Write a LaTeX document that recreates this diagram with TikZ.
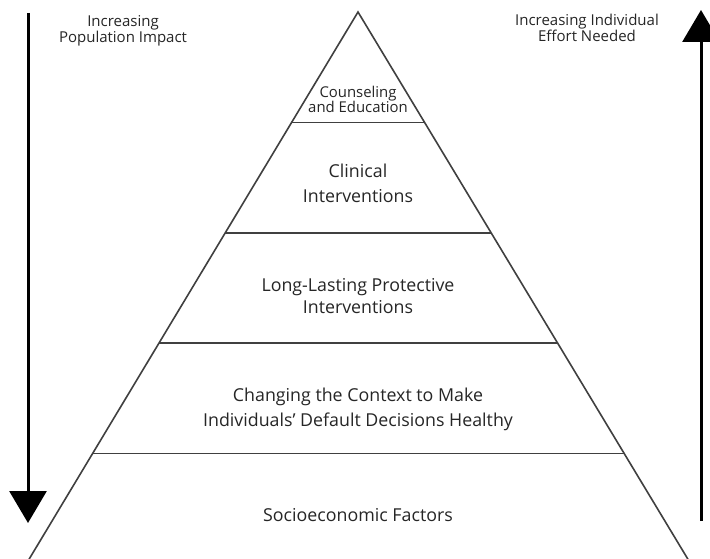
\documentclass[tikz,border=0pt]{standalone}
\usepackage{fontspec}
\setmainfont{Open Sans}
\usetikzlibrary{arrows.meta,calc}
\begin{document}
\begin{tikzpicture}[x=1pt,y=-1pt,
  edge/.style={line width=1.6pt,draw=black!75},
  bigarrow/.style={line width=3pt,draw=black,-{Triangle[width=37pt,length=32pt]}},
  tier/.style={align=center,inner sep=0pt,font=\fontsize{17.8}{25}\selectfont,text=black!85},
  toplabel/.style={align=center,inner sep=0pt,font=\fontsize{15}{14.8}\selectfont,text=black!85},
  smalltier/.style={align=center,inner sep=0pt,font=\fontsize{14.9}{15}\selectfont,text=black!85}]
\useasboundingbox (0,0) rectangle (710,559);
\fill[white] (0,0) rectangle (710,559);
% pyramid
\coordinate (apex) at (358,12);
\coordinate (bl) at (28,561);
\coordinate (br) at (689,561);
\draw[edge,line join=miter] (bl) -- (apex) -- (br);
\foreach \t/\n in {0.2011/a,0.4022/b,0.6033/c,0.8044/d}{
  \coordinate (l\n) at ($(apex)!\t!(bl)$);
  \coordinate (r\n) at ($(apex)!\t!(br)$);
  \draw[edge] (l\n) -- (r\n);
}
% tier labels
\node[smalltier] (t1) at (358,99) {Counseling\\and Education};
\node[tier] (t2) at (358,183) {Clinical\\Interventions};
\node[tier,font=\fontsize{17.8}{22}\selectfont] (t3) at (358,296) {Long-Lasting Protective\\Interventions};
\node[tier] (t4) at (358,409) {Changing the Context to Make\\Individuals’ Default Decisions Healthy};
\node[tier] (t5) at (358,515.3) {Socioeconomic Factors};
% side arrows
\coordinate (la1) at (28,13);
\coordinate (la2) at (28,523);
\draw[bigarrow] (la1) -- (la2);
\coordinate (ra1) at (701,521);
\coordinate (ra2) at (701,10);
\draw[bigarrow] (ra1) -- (ra2);
\node[toplabel] (ll) at (123,31) {Increasing\\Population Impact};
\node[toplabel] (rl) at (587,28) {Increasing Individual\\Effort Needed};
\end{tikzpicture}
\end{document}
